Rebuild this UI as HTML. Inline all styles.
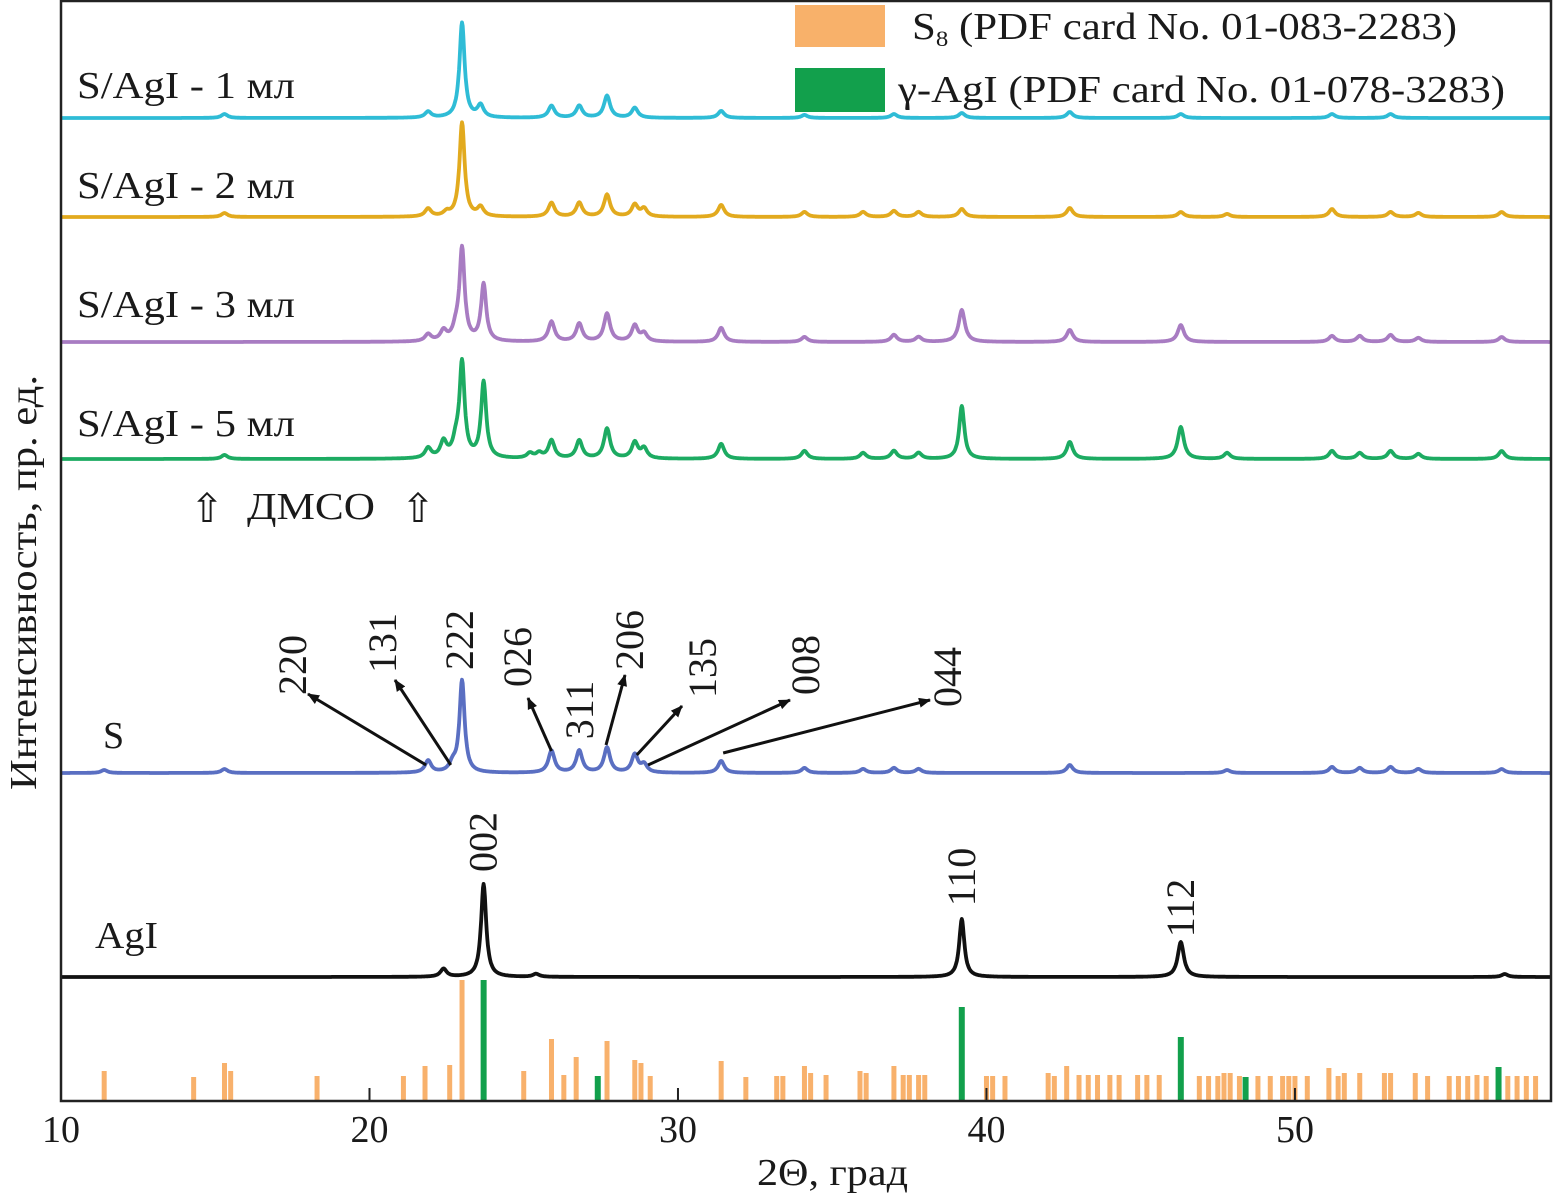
<!DOCTYPE html>
<html><head><meta charset="utf-8">
<style>
html,body{margin:0;padding:0;background:#fff}
svg{display:block}
text{font-family:"Liberation Serif",serif;fill:#1a1a1a}
</style></head>
<body>
<svg id="chart" width="1553" height="1200" viewBox="0 0 1553 1200" xmlns="http://www.w3.org/2000/svg">
<g id="traces"></g>
<g id="bars"></g>
<rect x="61" y="1" width="1490" height="1100" fill="none" stroke="#222" stroke-width="2.5"/>
<g id="ticks"></g>
<text x="757" y="1185" font-size="38" textLength="151" lengthAdjust="spacingAndGlyphs">2Θ, град</text>
<text transform="translate(36,790) rotate(-90)" font-size="38" textLength="415" lengthAdjust="spacingAndGlyphs">Интенсивность, пр. ед.</text>
<g>
<rect x="795" y="5" width="90" height="42" fill="#f7a85a" opacity="0.9"/>
<text x="912" y="39" font-size="38" textLength="545" lengthAdjust="spacingAndGlyphs">S<tspan font-size="22" dy="7">8</tspan><tspan dy="-7"> (PDF card No. 01-083-2283)</tspan></text>
<rect x="795" y="68" width="90" height="44" fill="#12a04c"/>
<text x="898" y="102" font-size="38" textLength="607" lengthAdjust="spacingAndGlyphs">γ-AgI (PDF card No. 01-078-3283)</text>
</g>
<g font-size="38">
<text x="77" y="98" textLength="218" lengthAdjust="spacingAndGlyphs">S/AgI - 1 мл</text>
<text x="77" y="198" textLength="218" lengthAdjust="spacingAndGlyphs">S/AgI - 2 мл</text>
<text x="77" y="317" textLength="218" lengthAdjust="spacingAndGlyphs">S/AgI - 3 мл</text>
<text x="77" y="436" textLength="218" lengthAdjust="spacingAndGlyphs">S/AgI - 5 мл</text>
<text x="103" y="748">S</text>
<text x="95" y="948" textLength="63" lengthAdjust="spacingAndGlyphs">AgI</text>
<text x="247" y="519" textLength="128" lengthAdjust="spacingAndGlyphs">ДМСО</text>
<text x="207" y="522" text-anchor="middle" font-family="DejaVu Sans" font-size="40">⇧</text>
<text x="418" y="522" text-anchor="middle" font-family="DejaVu Sans" font-size="40">⇧</text>
</g>
<g id="hkl"></g>
</svg>
<script>
const xMin=10, xMax=58.3;
const tickValues=[10,20,30,40,50];
const series1Peaks=[[23.0,95],[23.6,12],[21.9,6],[15.3,4],[25.9,12],[26.8,12],[27.7,22],[28.6,10],[31.4,7],[34.1,3],[37.0,4],[39.2,5],[42.7,6],[46.3,4],[51.2,4],[53.1,4]];
const series2Peaks=[[23.0,94],[21.9,8],[22.5,4],[23.6,9],[15.3,4],[25.9,14],[26.8,14],[27.7,22],[28.6,12],[28.9,8],[31.4,12],[34.1,5],[36.0,5],[37.0,6],[37.8,5],[39.2,8],[42.7,9],[46.3,5],[47.8,3],[51.2,8],[53.1,5],[54.0,4],[56.7,5]];
const series3Peaks=[[23.0,92],[23.7,57],[21.9,7],[22.4,10],[22.8,10],[25.9,20],[26.8,18],[27.7,28],[28.6,16],[28.9,8],[31.4,14],[34.1,5],[37.0,7],[37.8,5],[39.2,32],[42.7,12],[46.3,17],[51.2,6],[52.1,6],[53.1,7],[54.0,4],[56.7,5]];
const series5Peaks=[[23.0,94],[23.7,76],[21.9,10],[22.4,16],[22.8,14],[15.3,4],[25.2,5],[25.5,5],[25.9,18],[26.8,18],[27.7,30],[28.6,16],[28.9,10],[31.4,15],[34.1,8],[36.0,6],[37.0,8],[37.8,6],[39.2,53],[42.7,17],[46.3,32],[47.8,6],[51.2,8],[52.1,6],[53.1,8],[54.0,5],[56.7,8]];
const sulfurPeaks=[[23.0,92],[21.9,12],[22.7,8],[11.4,3],[15.3,4],[25.9,22],[26.8,22],[27.7,25],[28.6,18],[28.9,8],[31.4,12],[34.1,5],[36.0,4],[37.0,5],[37.8,4],[42.7,8],[47.8,3],[51.2,6],[52.1,5],[53.1,6],[54.0,4],[56.7,4]];
const agiPeaks=[[23.7,93],[22.4,8],[25.4,3],[39.2,58],[46.3,35],[56.8,3]];
const baselines=[118,217,342,459,773,977];
const s8Bars=[[11.4,30],[14.3,24],[15.3,38],[15.5,30],[18.3,25],[21.1,25],[21.8,35],[22.6,36],[23.0,121],[25.0,30],[25.9,62],[26.3,26],[26.7,44],[27.7,60],[28.6,41],[28.8,38],[29.1,25],[31.4,40],[32.2,24],[33.2,25],[33.4,25],[34.1,35],[34.3,28],[34.8,26],[35.9,30],[36.1,28],[37.0,35],[37.3,26],[37.5,26],[37.8,26],[38.0,26],[40.0,25],[40.2,25],[40.6,25],[42.0,28],[42.2,25],[42.6,35],[43.0,26],[43.3,26],[43.6,26],[44.0,26],[44.3,26],[44.9,26],[45.2,26],[45.6,26],[46.9,25],[47.2,25],[47.5,25],[47.7,28],[47.9,28],[48.2,25],[48.8,25],[49.2,25],[49.6,25],[49.8,25],[50.0,25],[50.4,25],[51.1,33],[51.4,25],[51.6,28],[52.1,28],[52.9,28],[53.1,28],[53.9,28],[54.3,25],[55.0,25],[55.3,25],[55.6,25],[55.9,26],[56.2,25],[56.9,25],[57.2,25],[57.5,25],[57.8,25]];
const agiBars=[[23.7,121],[27.4,25],[39.2,94],[46.3,64],[48.4,24],[56.6,34]];
const hklLabels=["220","131","222","026","311","206","135","008","044"];
const hklPeakX=[21.9,22.7,23.0,25.9,26.8,27.7,28.6,28.9,31.4];
const agiLabels=["002","110","112"];
const agiLabelX=[23.7,39.2,46.3];

const NS="http://www.w3.org/2000/svg";
const X0=61, X1=1551, YB=1101;
function sx(v){return X0+(v-xMin)/(xMax-xMin)*(X1-X0);}
function mk(tag,attrs,parent){const e=document.createElementNS(NS,tag);for(const k in attrs)e.setAttribute(k,attrs[k]);parent.appendChild(e);return e;}
const colors=["#2fbcd6","#e2aa1e","#a87cc2","#1dab62","#5a6fc2","#111"];
const names=["trace-1ml","trace-2ml","trace-3ml","trace-5ml","trace-sulfur","trace-agi"];
const allPeaks=[series1Peaks,series2Peaks,series3Peaks,series5Peaks,sulfurPeaks,agiPeaks];
const tr=document.getElementById('traces');
allPeaks.forEach((pk,i)=>{
  let d="";
  for(let v=xMin;v<=xMax;v+=0.02){
    let y=0;
    pk.forEach(([c,h])=>{const w=(h>40?0.1:0.12);y+=h/(1+((v-c)/w)**2);});
    d+=(d?"L":"M")+sx(v).toFixed(1)+","+(baselines[i]-y).toFixed(1);
  }
  const p=mk('path',{d:d,fill:'none',stroke:colors[i],'stroke-width':3.8,'stroke-linejoin':'round'},tr);
  
  
});
const bg=document.getElementById('bars');
s8Bars.forEach(([c,h])=>{
  const r=mk('rect',{x:sx(c)-2.5,y:YB-h,width:5,height:h,fill:'#f7a352',opacity:0.85},bg);
  
  
});
agiBars.forEach(([c,h])=>{
  const r=mk('rect',{x:sx(c)-3,y:YB-h,width:6,height:h,fill:'#12a04c'},bg);
  
  
});
const tg=document.getElementById('ticks');
tickValues.forEach(v=>{
  const l=mk('line',{x1:sx(v),x2:sx(v),y1:YB,y2:YB-13,stroke:'#222','stroke-width':2},tg);
  
  
  const t=mk('text',{x:sx(v),y:1142,'font-size':38,'text-anchor':'middle'},tg);
  t.textContent=v;
  
  
});
const hg=document.getElementById('hkl');
mk('defs',{},hg).innerHTML='<marker id="ah" markerWidth="12" markerHeight="10" refX="11" refY="5" orient="auto" markerUnits="userSpaceOnUse" viewBox="0 0 12 10"><path d="M0,0L12,5L0,10z" fill="#111"/></marker>';
const labPos=[[293,665],[383,643],[460,640],[518,657],[580,710],[630,640],[703,668],[806,665],[948,677]];
const arrowEnd=[[308,694],[395,680],null,[528,698],null,[625,675],[682,706],[790,700],[930,700]];
const arrowStartDy=[[-2,-8],[-2,-8],null,[0,-22],null,[-1,-28],[2,-18],[4,-8],[2,-20]];
hklLabels.forEach((lab,i)=>{
  const [lx,ly]=labPos[i];
  const t=mk('text',{transform:`translate(${lx+13},${ly}) rotate(-90)`,'font-size':40,'text-anchor':'middle'},hg);
  t.textContent=lab;
  
  
  if(arrowEnd[i]){
    const a=mk('line',{x1:sx(hklPeakX[i])+arrowStartDy[i][0],y1:773+arrowStartDy[i][1],x2:arrowEnd[i][0],y2:arrowEnd[i][1],stroke:'#111','stroke-width':3,'marker-end':'url(#ah)'},hg);
    
    
  }
});
const agiLabY=[842,877,908];
agiLabels.forEach((lab,i)=>{
  const t=mk('text',{transform:`translate(${sx(agiLabelX[i])+13},${agiLabY[i]}) rotate(-90)`,'font-size':40,'text-anchor':'middle'},hg);
  t.textContent=lab;
  
  
});
</script>
</body></html>
